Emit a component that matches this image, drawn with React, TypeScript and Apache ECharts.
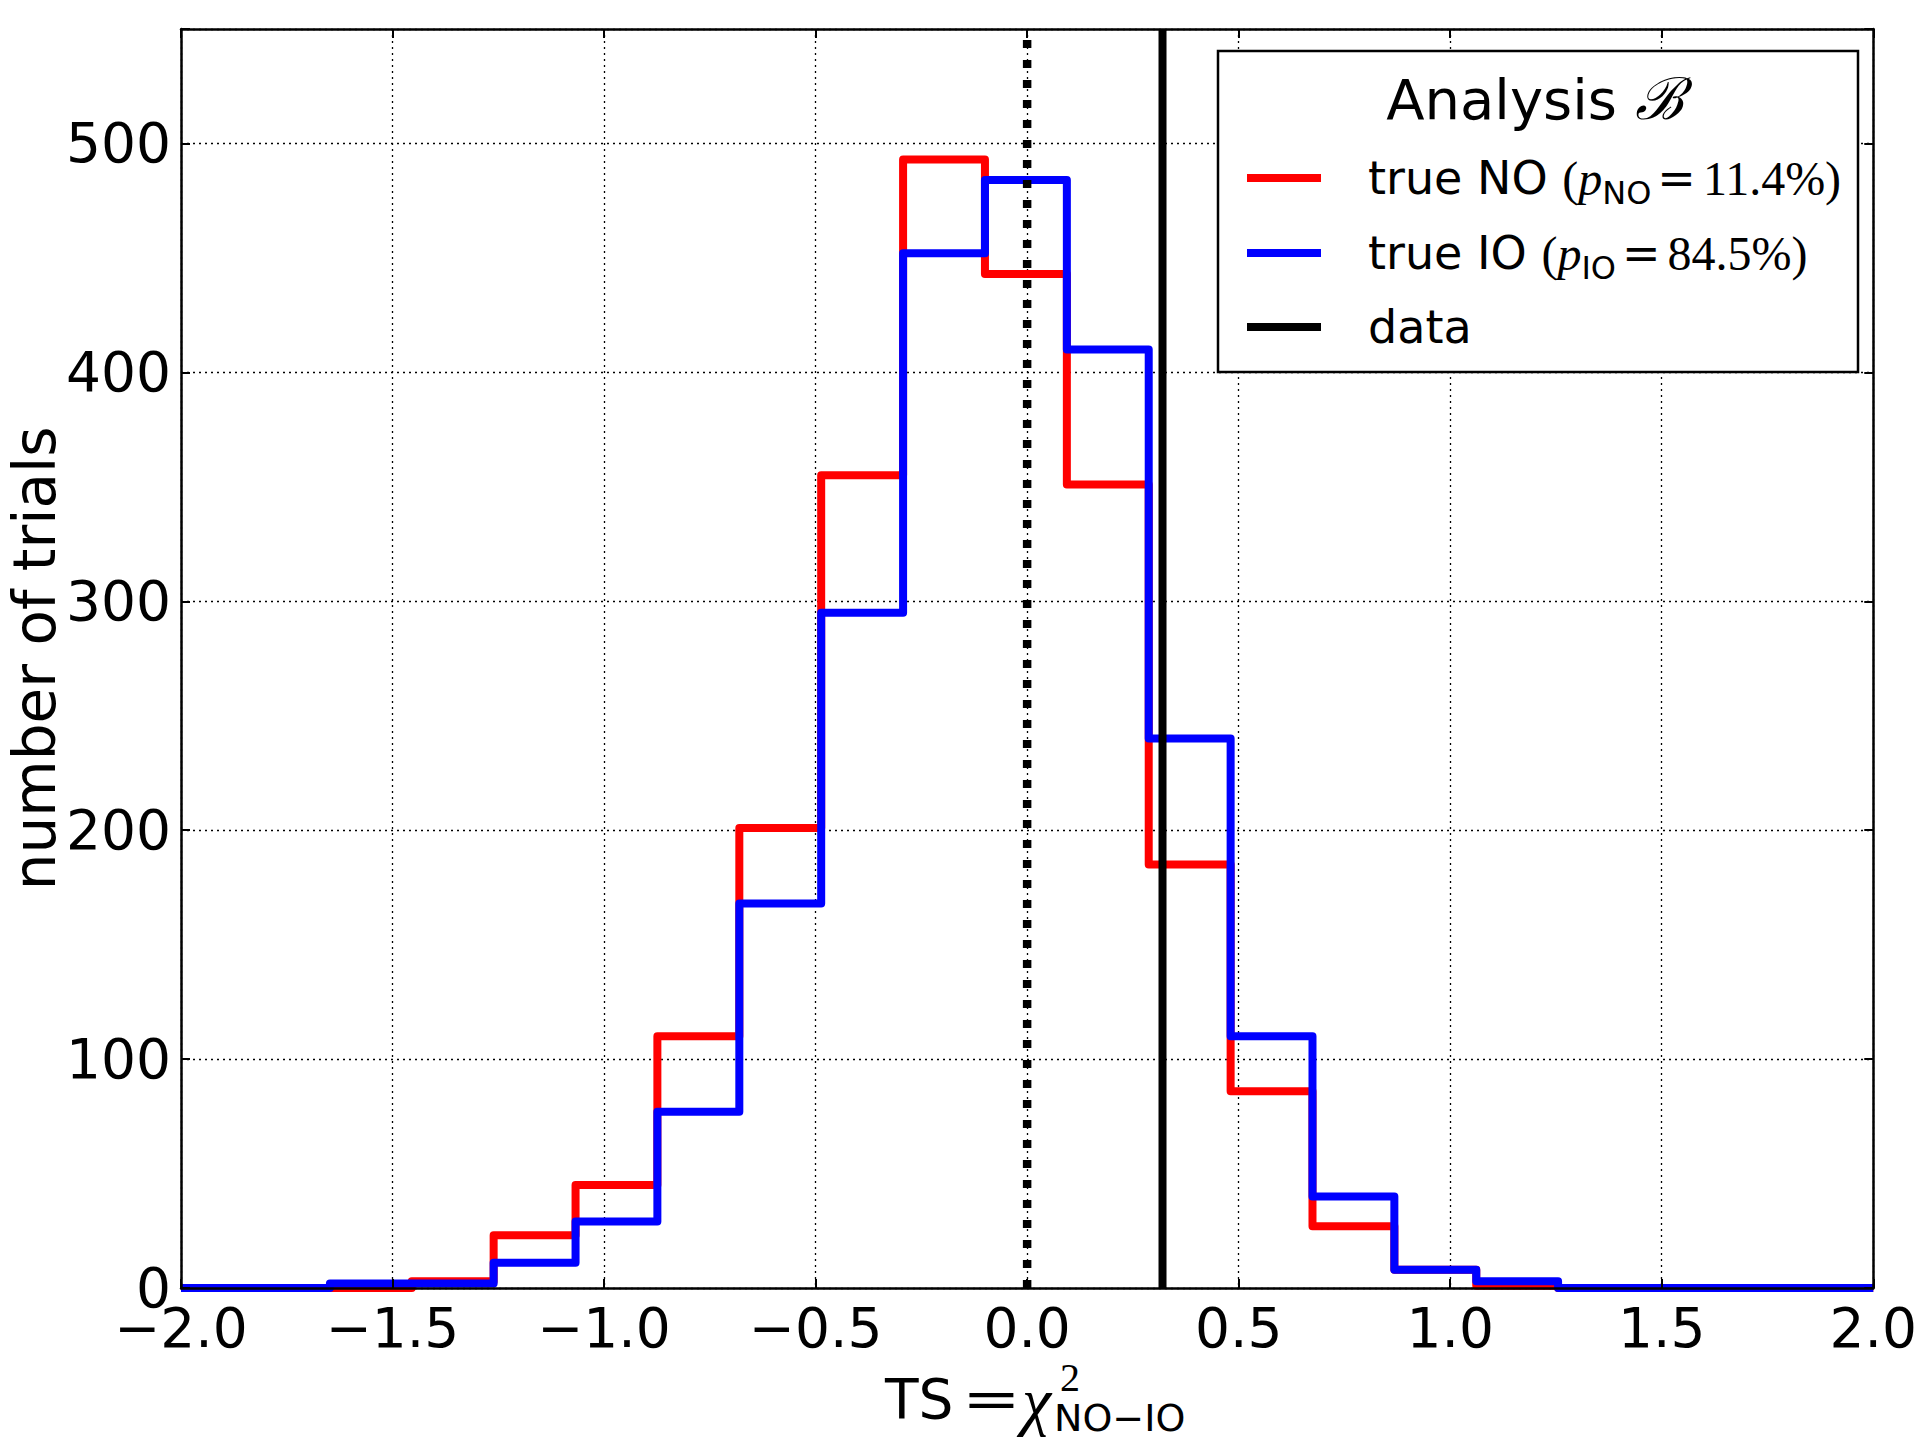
import React, { useEffect, useRef } from 'react';
import * as echarts from 'echarts';

// ---- axis ranges & ticks ----
const X_MIN = -2;
const X_MAX = 2;
const X_STEP = 0.5;
const Y_MIN = 0;
const Y_MAX = 550;
const Y_STEP = 100;
const Y_TICKS = [0, 100, 200, 300, 400, 500];

// ---- histogram bins (edges) and counts ----
const BIN_EDGES = [-1.648, -1.4545, -1.261, -1.0674, -0.874, -0.6803, -0.4868, -0.2932, -0.0997, 0.0939, 0.2874, 0.481, 0.6745, 0.868, 1.0616, 1.255];
const COUNTS_NO = [0, 3, 23, 45, 110, 201, 355, 493, 443, 351, 185, 86, 27, 8, 1];
const COUNTS_IO = [2, 2, 11, 29, 77, 168, 295, 452, 484, 410, 240, 110, 40, 8, 3];

// ---- reference lines ----
const TS_NULL = 0;
const TS_DATA = 0.32;

// ---- legend texts ----
const LEGEND_TITLE = 'Analysis ';
const LEGEND_TITLE_SYMBOL = 'ℬ';
const P_NO = '11.4%';
const P_IO = '84.5%';

const SANS = '"DejaVu Sans", sans-serif';
const SERIF = '"Liberation Serif", "DejaVu Serif", serif';
const SERIF2 = '"DejaVu Serif", serif';

function stepPoints(edges: number[], counts: number[]): number[][] {
  const pts: number[][] = [[X_MIN, 0], [edges[0], 0]];
  for (let i = 0; i < counts.length; i++) {
    pts.push([edges[i], counts[i]]);
    pts.push([edges[i + 1], counts[i]]);
  }
  pts.push([edges[edges.length - 1], 0]);
  pts.push([X_MAX, 0]);
  return pts;
}

function fmtX(v: number): string {
  const s = Math.abs(v).toFixed(1);
  return v < 0 ? '\u2212' + s : s;
}

const FRAME = { color: '#000', width: 2.5 };

function buildOption(): any {
  const baseX = { type: 'value', min: X_MIN, max: X_MAX, interval: X_STEP };
  const baseY = { type: 'value', min: Y_MIN, max: Y_MAX, interval: Y_STEP };
  const overlayAxis = {
    axisLine: { show: true, onZero: false, lineStyle: FRAME },
    axisTick: { show: true, inside: true, length: 9, lineStyle: { color: '#000', width: 2 } },
    axisLabel: { show: false },
    splitLine: { show: false },
    z: 5,
  };
  const rowRich = {
    t: { fontFamily: SANS, fontSize: 46, fill: '#000', color: '#000' },
    s: { fontFamily: SERIF, fontSize: 48, fill: '#000', color: '#000' },
    eq: { fontFamily: SERIF2, fontSize: 46, fill: '#000', color: '#000', padding: [0, 7, 0, 6] },
    i: { fontFamily: SERIF, fontSize: 48, fontStyle: 'italic', fill: '#000', color: '#000' },
    sub: { fontFamily: SANS, fontSize: 32, fill: '#000', color: '#000', padding: [30, 0, 0, 0] },
  };
  const legendLine = (y: number, color: string) => ({
    type: 'line',
    z: 10,
    shape: { x1: 1247, y1: y, x2: 1321, y2: y },
    style: { stroke: color, lineWidth: 8 },
  });
  const rowText = (y: number, text: string) => ({
    type: 'text',
    z: 10,
    x: 1368,
    y,
    style: {
      text,
      rich: rowRich,
      fontFamily: SANS,
      fontSize: 46,
      fill: '#000',
      align: 'left',
      textAlign: 'left',
      verticalAlign: 'middle',
      textVerticalAlign: 'middle',
    },
  });
  const plain = (x: number, y: number, text: string, family: string, size: number, italic = false, scaleX = 1) => ({
    type: 'text',
    z: 10,
    x,
    y,
    scaleX,
    style: {
      text,
      fontFamily: family,
      fontSize: size,
      fontStyle: italic ? 'italic' : 'normal',
      fill: '#000',
      align: 'left',
      textAlign: 'left',
      verticalAlign: 'middle',
      textVerticalAlign: 'middle',
    },
  });

  return {
    animation: false,
    backgroundColor: '#fff',
    grid: { left: 181, top: 29, right: 37, bottom: 152, containLabel: false },
    xAxis: [
      {
        ...baseX,
        position: 'bottom',
        axisLine: { show: false, onZero: false },
        axisTick: { show: false },
        axisLabel: { show: true, fontFamily: SANS, fontSize: 55, color: '#000', margin: 12, formatter: fmtX },
        splitLine: { show: true, lineStyle: { color: '#000', width: 1.3, type: [2, 4] } },
        z: 0,
      },
      { ...baseX, position: 'top', ...overlayAxis },
      { ...baseX, position: 'bottom', ...overlayAxis },
    ],
    yAxis: [
      {
        ...baseY,
        position: 'left',
        axisLine: { show: false, onZero: false },
        axisTick: { show: false },
        axisLabel: {
          show: true,
          fontFamily: SANS,
          fontSize: 55,
          color: '#000',
          margin: 10,
          customValues: Y_TICKS,
          formatter: (v: number) => (Y_TICKS.indexOf(v) >= 0 ? String(v) : ''),
        },
        splitLine: { show: true, lineStyle: { color: '#000', width: 1.3, type: [2, 4] } },
        z: 0,
      },
      { ...baseY, position: 'right', ...overlayAxis },
      { ...baseY, position: 'left', ...overlayAxis },
    ],
    series: [
      {
        name: 'true NO',
        type: 'line',
        data: stepPoints(BIN_EDGES, COUNTS_NO),
        showSymbol: false,
        symbol: 'none',
        silent: true,
        clip: true,
        z: 2,
        lineStyle: { color: '#ff0000', width: 8, join: 'round' },
        emphasis: { disabled: true },
      },
      {
        name: 'true IO',
        type: 'line',
        data: stepPoints(BIN_EDGES, COUNTS_IO),
        showSymbol: false,
        symbol: 'none',
        silent: true,
        clip: true,
        z: 3,
        lineStyle: { color: '#0000ff', width: 8, join: 'round' },
        emphasis: { disabled: true },
      },
      {
        name: 'TS = 0',
        type: 'line',
        data: [[TS_NULL, Y_MIN], [TS_NULL, Y_MAX]],
        showSymbol: false,
        symbol: 'none',
        silent: true,
        z: 4,
        lineStyle: { color: '#000', width: 8.5, type: [8, 12], cap: 'butt' },
        emphasis: { disabled: true },
      },
      {
        name: 'data',
        type: 'line',
        data: [[TS_DATA, Y_MIN], [TS_DATA, Y_MAX]],
        showSymbol: false,
        symbol: 'none',
        silent: true,
        z: 4,
        lineStyle: { color: '#000', width: 8 },
        emphasis: { disabled: true },
      },
    ],
    graphic: {
      elements: [
        // y axis title
        {
          type: 'text',
          x: 35,
          y: 658.5,
          rotation: Math.PI / 2,
          style: {
            text: 'number of trials',
            fontFamily: SANS,
            fontSize: 58,
            fill: '#000',
            align: 'center',
            textAlign: 'center',
            verticalAlign: 'middle',
            textVerticalAlign: 'middle',
          },
        },
        // x axis title pieces: TS = χ^2_{NO−IO}
        plain(885, 1399, 'TS', SANS, 55),
        plain(962, 1399, '=', SERIF2, 54, false, 1.3),
        plain(1022, 1400, 'χ', SERIF, 66, true),
        plain(1060, 1377, '2', SERIF, 40),
        plain(1054, 1418, 'NO\u2212IO', SANS, 38),
        // legend frame
        {
          type: 'rect',
          z: 9,
          shape: { x: 1218, y: 51, width: 640, height: 321 },
          style: { fill: '#fff', stroke: '#000', lineWidth: 2.5 },
        },
        // legend title
        {
          type: 'text',
          z: 10,
          x: 1535,
          y: 99,
          style: {
            text: '{a|' + LEGEND_TITLE + '}{b|' + LEGEND_TITLE_SYMBOL + '}',
            rich: {
              a: { fontFamily: SANS, fontSize: 56, fill: '#000', color: '#000' },
              b: { fontFamily: SERIF2, fontSize: 58, fontStyle: 'italic', fill: '#000', color: '#000' },
            },
            fontFamily: SANS,
            fontSize: 56,
            fill: '#000',
            align: 'center',
            textAlign: 'center',
            verticalAlign: 'middle',
            textVerticalAlign: 'middle',
          },
        },
        legendLine(178, '#ff0000'),
        legendLine(253, '#0000ff'),
        legendLine(327, '#000000'),
        rowText(178, '{t|true NO }{s|(}{i|p}{sub|NO}{eq|=}{s|' + P_NO + ')}'),
        rowText(253, '{t|true IO }{s|(}{i|p}{sub|IO}{eq|=}{s|' + P_IO + ')}'),
        rowText(327, '{t|data}'),
      ],
    },
  };
}

export default function App() {
  const ref = useRef<HTMLDivElement>(null);
  useEffect(() => {
    document.body.style.margin = '0';
    const el = ref.current;
    if (!el) return;
    const chart = echarts.init(el, null, { renderer: 'svg', width: 1920, height: 1440 });
    chart.setOption(buildOption());
    return () => {
      chart.dispose();
    };
  }, []);
  return <div ref={ref} style={{ width: 1920, height: 1440, background: '#fff' }} />;
}
